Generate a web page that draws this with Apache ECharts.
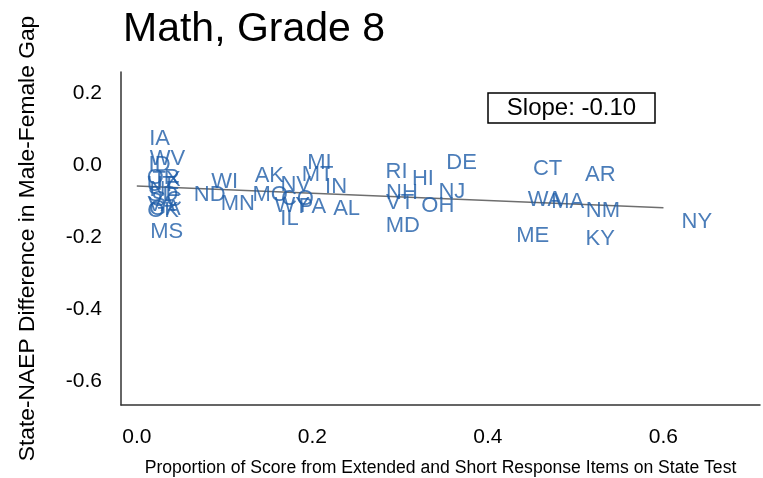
<!DOCTYPE html>
<html><head><meta charset="utf-8">
<script src="https://cdn.jsdelivr.net/npm/echarts@6/dist/echarts.min.js"></script>
<style>html,body{margin:0;padding:0;background:#fff}#c{width:763px;height:478px}</style>
</head><body><div id="c"></div>
<script>
const states = ["IA","WV","ID","OR","TX","UT","NE","SD","SC","VA","GA","OK","MS",
  "WI","ND","MN","AK","MO","CO","NV","MT","MI","IN","WY","PA","IL","AL",
  "RI","HI","NH","VT","MD","DE","NJ","OH","CT","WA","MA","ME","AR","NM","KY","NY"];
const propExtended = [0.026,0.035,0.026,0.030,0.034,0.028,0.032,0.030,0.034,0.028,0.032,0.030,0.034,
  0.100,0.083,0.115,0.151,0.152,0.183,0.181,0.206,0.208,0.227,0.177,0.200,0.174,0.239,
  0.296,0.326,0.302,0.300,0.303,0.370,0.359,0.343,0.468,0.465,0.491,0.451,0.528,0.531,0.528,0.638];
const gapDiff = [0.078,0.022,0.006,-0.030,-0.036,-0.050,-0.064,-0.078,-0.091,-0.105,-0.116,-0.122,-0.180,
  -0.042,-0.078,-0.102,-0.025,-0.078,-0.089,-0.050,-0.022,0.011,-0.055,-0.108,-0.111,-0.144,-0.116,
  -0.014,-0.033,-0.072,-0.100,-0.163,0.011,-0.069,-0.108,-0.006,-0.091,-0.097,-0.191,-0.022,-0.122,-0.199,-0.152];
const trendX = [0, 0.6];
const trendY = [-0.058, -0.118];
const xTicks = [0, 0.2, 0.4, 0.6];
const yTicks = [-0.6, -0.4, -0.2, 0, 0.2];
const slopeText = "Slope: -0.10";

const chart = echarts.init(document.getElementById('c'));
const font = 'Liberation Sans, Arial, sans-serif';
chart.setOption({
  animation: false,
  title: {text: 'Math, Grade 8', left: 118, top: 4,
    textStyle: {fontFamily: font, fontSize: 41, fontWeight: 'normal', color: '#000'}},
  grid: {left: 121, right: 3, top: 72, bottom: 73, containLabel: false, outerBoundsMode: 'none'},
  xAxis: {type: 'value', min: -0.018, max: 0.71,
    splitLine: {show: false}, axisTick: {show: false},
    axisLine: {onZero: false, lineStyle: {color: '#333', width: 1.5}},
    axisLabel: {customValues: xTicks, formatter: v => v.toFixed(1), fontFamily: font, fontSize: 21, color: '#000', margin: 22},
    name: 'Proportion of Score from Extended and Short Response Items on State Test',
    nameLocation: 'middle', nameGap: 54,
    nameTextStyle: {fontFamily: font, fontSize: 17.6, color: '#000'}},
  yAxis: {type: 'value', min: -0.665, max: 0.258,
    splitLine: {show: false}, axisTick: {show: false},
    axisLine: {show: true, onZero: false, lineStyle: {color: '#333', width: 1.5}},
    axisLabel: {customValues: yTicks, formatter: v => v.toFixed(1), fontFamily: font, fontSize: 21, color: '#000', margin: 19,
      verticalAlign: 'middle', lineHeight: 21, padding: [10, 0, 0, 0]},
    name: 'State-NAEP Difference in Male-Female Gap',
    nameLocation: 'middle', nameGap: 82, nameRotate: 90,
    nameTextStyle: {fontFamily: font, fontSize: 22.8, color: '#000'}},
  series: [
    {type: 'line', data: trendX.map((x, i) => [x, trendY[i]]), symbol: 'none',
     lineStyle: {color: '#6e6e6e', width: 1.5}, z: 1},
    {type: 'scatter', symbolSize: 0, z: 2,
     data: states.map((s, i) => ({name: s, value: [propExtended[i], gapDiff[i]]})),
     label: {show: true, position: 'inside', offset: [0, 2], formatter: p => p.name,
       fontFamily: font, fontSize: 22, color: '#1e5ca8'}}
  ],
  graphic: [
    {type: 'rect', shape: {x: 488, y: 93, width: 167, height: 30},
     style: {fill: '#fff', stroke: '#000', lineWidth: 1.5}},
    {type: 'text', x: 571.5, y: 108,
     style: {text: slopeText, fontFamily: font, fontSize: 24, fill: '#000', align: 'center', verticalAlign: 'middle'}}
  ]
});
</script></body></html>
